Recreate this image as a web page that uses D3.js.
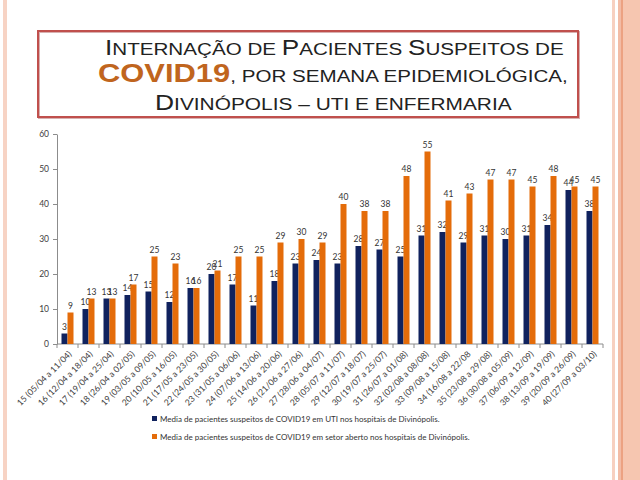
<!DOCTYPE html>
<meta charset="utf-8">
<script src="https://d3js.org/d3.v7.min.js"></script>
<style>
  body { margin: 0; background: #fff; }
  text { font-family: 'Lato', 'Liberation Sans', sans-serif; }
  .title { font-family: 'Liberation Sans', Arial, sans-serif; fill: #222; }
</style>
<body>
<div id="chart"></div>
<script>

var categories = [
  "15 (05/04 a 11/04)", "16 (12/04 a 18/04)", "17 (19/04 a 25/04)", "18 (26/04 a 02/05)",
  "19 (03/05 a 09/05)", "20 (10/05 a 16/05)", "21 (17/05 a 23/05)", "22 (24/05 a 30/05)",
  "23 (31/05 a 06/06)", "24 (07/06 a 13/06)", "25 (14/06 a 20/06)", "26 (21/06 a 27/06)",
  "27 (28/06 a 04/07)", "28 (05/07 a 11/07)", "29 (12/07 a 18/07)", "30 (19/07 a 25/07)",
  "31 (26/07 a 01/08)", "32 (02/08 a 08/08)", "33 (09/08 a 15/08)", "34 (16/08 a 22/08",
  "35 (23/08 a 29/08)", "36 (30/08 a 05/09)", "37 (06/09 a 12/09)", "38 (13/09 a 19/09)",
  "39 (20/09 a 26/09)", "40 (27/09 a 03/10)"
];
var uti = [3, 10, 13, 14, 15, 12, 16, 20, 17, 11, 18, 23, 24, 23, 28, 27, 25, 31, 32, 29, 31, 30, 31, 34, 44, 38];
var enfermaria = [9, 13, 13, 17, 25, 23, 16, 21, 25, 25, 29, 30, 29, 40, 38, 38, 48, 55, 41, 43, 47, 47, 45, 48, 45, 45];
var yTicks = [0, 10, 20, 30, 40, 50, 60];
var seriesNames = [
  "Media de pacientes suspeitos de COVID19 em UTI nos hospitais de Divinópolis.",
  "Media de pacientes suspeitos de COVID19 em setor aberto nos hospitais de Divinópolis."
];
var colors = ["#10225e", "#e46c0a"];

var svg = d3.select("#chart").append("svg")
  .attr("width", 640)
  .attr("height", 480);

svg.append("rect").attr("width", 640).attr("height", 480).attr("fill", "#fff");

// slide decoration
svg.append("rect").attr("x", 3).attr("y", 0).attr("width", 4).attr("height", 480).attr("fill", "#f7d3c4");
svg.append("rect").attr("x", 612).attr("y", 0).attr("width", 3).attr("height", 480).attr("fill", "#f7d0c0");
svg.append("rect").attr("x", 618).attr("y", 0).attr("width", 3).attr("height", 480).attr("fill", "#f2bca6");
svg.append("rect").attr("x", 621).attr("y", 0).attr("width", 2).attr("height", 480).attr("fill", "#eca282");
svg.append("rect").attr("x", 623).attr("y", 0).attr("width", 17).attr("height", 480).attr("fill", "#f6c6b0");

// title box
svg.append("rect").attr("x", 39).attr("y", 32).attr("width", 540).attr("height", 86)
  .attr("fill", "none").attr("stroke", "#d8b0b0").attr("stroke-width", 2);
svg.append("rect").attr("x", 38).attr("y", 31).attr("width", 540).attr("height", 86)
  .attr("fill", "none").attr("stroke", "#c0504d").attr("stroke-width", 2);

// small caps title, stretched to the measured width of each line
function titleLine(parts, x0, x1, baseline) {
  var g = svg.append("g");
  var t = g.append("text").attr("class", "title").attr("x", 0).attr("y", 0);
  parts.forEach(function(p) {
    var ts = t.append("tspan").text(p.t).style("font-size", p.s + "px");
    if (p.c) ts.attr("fill", p.c).style("font-weight", "bold");
  });
  var w = t.node().getComputedTextLength();
  g.attr("transform", "translate(" + x0 + "," + baseline + ") scale(" + ((x1 - x0) / w) + ",1)");
}
var B = 21.5, S = 17;
titleLine([
  {t: "I", s: B}, {t: "NTERNAÇÃO DE ", s: S}, {t: "P", s: B}, {t: "ACIENTES ", s: S},
  {t: "S", s: B}, {t: "USPEITOS DE", s: S}
], 105, 564, 55);
titleLine([
  {t: "COVID19", s: 25.5, c: "#c0651e"}, {t: ", POR SEMANA EPIDEMIOLÓGICA,", s: S}
], 98, 568, 82);
titleLine([
  {t: "D", s: B}, {t: "IVINÓPOLIS – UTI E ENFERMARIA", s: S}
], 155, 512, 110);

// scales
var x0 = d3.scaleBand().domain(categories).range([57, 603]).paddingInner(0).paddingOuter(0);
var x1 = d3.scaleBand().domain([0, 1]).range([0, x0.bandwidth()]).paddingInner(0).paddingOuter(0.75);
var y = d3.scaleLinear().domain([0, 60]).range([344, 134]);

// y axis
var yAxis = svg.append("g")
  .attr("transform", "translate(57,0)")
  .call(d3.axisLeft(y).tickValues(yTicks).tickSize(4).tickSizeOuter(0).tickPadding(4));
yAxis.select(".domain").attr("stroke", "#8c8c8c");
yAxis.selectAll(".tick line").attr("stroke", "#8c8c8c");
yAxis.selectAll(".tick text").attr("fill", "#404040").style("font-size", "8.5px")
  .style("font-family", "Lato, 'Liberation Sans', sans-serif");

// x axis line + ticks at category boundaries
svg.append("line").attr("x1", 57).attr("x2", 603).attr("y1", 344).attr("y2", 344).attr("stroke", "#8c8c8c");
var bounds = categories.map(function(c) { return x0(c); }).concat([x0.range()[1]]);
svg.selectAll(".xtick").data(bounds).enter().append("line")
  .attr("x1", function(d) { return d; }).attr("x2", function(d) { return d; })
  .attr("y1", 344).attr("y2", 348).attr("stroke", "#8c8c8c");

svg.selectAll(".xlabel").data(categories).enter().append("text")
  .attr("transform", function(d) {
    return "translate(" + (x0(d) + x0.bandwidth() / 2 + 1) + ",351) rotate(-45)";
  })
  .attr("text-anchor", "end")
  .attr("dy", "0.6em")
  .attr("fill", "#404040")
  .style("font-size", "8.6px")
  .text(function(d) { return d; });

// bars
var series = [uti, enfermaria];
series.forEach(function(vals, si) {
  var grp = svg.append("g");
  grp.selectAll("rect").data(vals).enter().append("rect")
    .attr("x", function(d, i) { return x0(categories[i]) + x1(si); })
    .attr("y", function(d) { return y(d); })
    .attr("width", x1.bandwidth())
    .attr("height", function(d) { return y(0) - y(d); })
    .attr("fill", colors[si]);
  grp.selectAll("text").data(vals).enter().append("text")
    .attr("x", function(d, i) { return x0(categories[i]) + x1(si) + x1.bandwidth() / 2; })
    .attr("y", function(d) { return y(d) - 4; })
    .attr("text-anchor", "middle")
    .attr("fill", "#333")
    .style("font-size", "8.5px")
    .text(function(d) { return d; });
});

// legend
var leg = svg.selectAll(".leg").data(seriesNames).enter().append("g")
  .attr("transform", function(d, i) { return "translate(152," + (416 + i * 18) + ")"; });
leg.append("rect").attr("width", 5).attr("height", 5).attr("fill", function(d, i) { return colors[i]; });
leg.append("text").attr("x", 8).attr("y", 5.5).attr("fill", "#333")
  .style("font-size", "8px").text(function(d) { return d; });

</script>
</body>
